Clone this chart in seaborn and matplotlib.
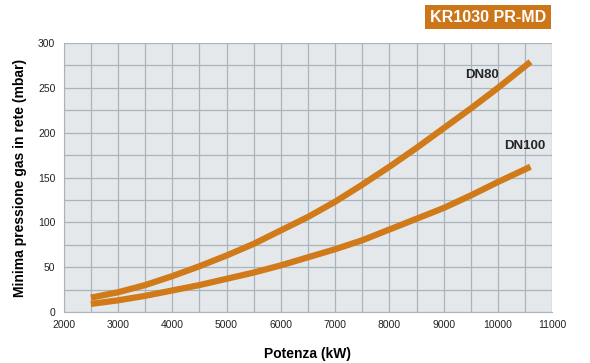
import matplotlib
matplotlib.use("Agg")
import matplotlib.pyplot as plt
import seaborn as sns
import pandas as pd

# Dati
potenza = [2500, 3000, 3500, 4000, 4500, 5000, 5500, 6000, 6500, 7000,
           7500, 8000, 8500, 9000, 9500, 10000, 10600]
dn80 = [16, 22, 30, 40, 51, 63, 76, 91, 106, 123, 142, 162, 183, 205, 227, 250, 279]
dn100 = [9, 13, 18, 24, 30, 37, 44, 52, 61, 70, 80, 92, 104, 116, 130, 145, 162]

df = pd.DataFrame({
    'Potenza': potenza * 2,
    'Pressione': dn80 + dn100,
    'Serie': ['DN80'] * len(potenza) + ['DN100'] * len(potenza),
})

sns.set_style('whitegrid', {
    'axes.facecolor': '#e5e8eb',
    'grid.color': '#a8b5bc',
    'axes.edgecolor': '#a8b5bc',
})
plt.rcParams['font.family'] = ['Liberation Sans', 'DejaVu Sans']

fig = plt.figure(figsize=(5.9, 3.63), dpi=100)
ax = fig.add_axes([0.108, 0.1405, 0.828, 0.741])

arancio = '#d07a1a'
sns.lineplot(data=df, x='Potenza', y='Pressione', hue='Serie',
             palette=[arancio, arancio], linewidth=4.5, legend=False, ax=ax,
             solid_capstyle='butt', solid_joinstyle='round')

ax.set_xlim(2000, 11000)
ax.set_ylim(0, 300)
ax.set_xticks(range(2000, 11001, 1000))
ax.set_yticks(range(0, 301, 50))
ax.set_xticks(range(2500, 11000, 1000), minor=True)
ax.set_yticks(range(25, 300, 50), minor=True)
ax.grid(True, which='both', color='#a8b5bc', linewidth=0.9)
ax.tick_params(axis='both', which='major', labelsize=7.5, length=3,
               color='#a8b5bc', pad=3, labelcolor='#222222')
ax.tick_params(which='minor', length=0)
for s in ['top', 'right']:
    ax.spines[s].set_visible(False)

ax.set_xlabel('Potenza (kW)', fontsize=10, fontweight='bold', labelpad=12,
              color='black')
ax.set_ylabel('Minima pressione gas in rete (mbar)', fontsize=10,
              fontweight='bold', labelpad=8, color='black')

ax.text(9710, 264, 'DN80', fontsize=9.5, fontweight='bold', ha='center', va='center')
ax.text(10500, 185, 'DN100', fontsize=9.5, fontweight='bold', ha='center', va='center')

fig.text(0.827, 0.953, 'KR1030 PR-MD', fontsize=11.5, fontweight='bold',
         color='white', ha='center', va='center',
         bbox=dict(boxstyle='square,pad=0.3', facecolor='#cd7619',
                   edgecolor='none'))

plt.savefig('out.png', dpi=100)
